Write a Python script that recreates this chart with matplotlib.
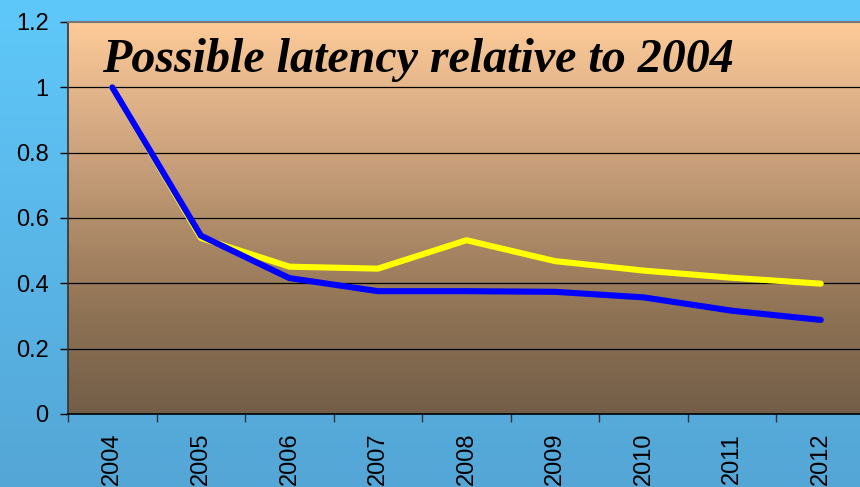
import numpy as np
import matplotlib
matplotlib.use("Agg")
import matplotlib.pyplot as plt
from matplotlib.colors import LinearSegmentedColormap

years = ["2004", "2005", "2006", "2007", "2008", "2009", "2010", "2011", "2012"]
yellow_vals = [1.0, 0.539, 0.451, 0.445, 0.532, 0.468, 0.439, 0.417, 0.399]
blue_vals = [1.0, 0.546, 0.416, 0.376, 0.376, 0.374, 0.357, 0.316, 0.288]
y_ticks = [0, 0.2, 0.4, 0.6, 0.8, 1.0, 1.2]
y_tick_labels = ["0", "0.2", "0.4", "0.6", "0.8", "1", "1.2"]
title = "Possible latency relative to 2004"

fig = plt.figure(figsize=(8.6, 4.87), dpi=100)

# sky-blue backdrop behind the whole chart
bg = fig.add_axes([0, 0, 1, 1], zorder=-10)
bg_cmap = LinearSegmentedColormap.from_list("sky", ["#5FC8FA", "#54A6D6"])
bg.imshow(np.linspace(0, 1, 256).reshape(-1, 1), cmap=bg_cmap, aspect="auto",
          extent=[0, 1, 0, 1], origin="upper")
bg.set_axis_off()

ax = fig.add_axes([68 / 860, 1 - 414 / 487, 797 / 860, (414 - 22) / 487])
x = np.arange(len(years))

# peach-to-brown plot area gradient (peach at the top)
pa_cmap = LinearSegmentedColormap.from_list("tan", ["#FECB98", "#D8AC85", "#B38E6B", "#8E7254", "#735E48"])
ax.imshow(np.linspace(0, 1, 256).reshape(-1, 1), cmap=pa_cmap, aspect="auto",
          extent=[-0.5, len(years) - 0.5, 0, 1.2], origin="upper", zorder=0)
ax.set_xlim(-0.5, len(years) - 0.5)
ax.set_ylim(0, 1.2)

for yv in y_ticks[1:-1]:
    ax.axhline(yv, color="black", lw=0.9, zorder=1)

ax.plot(x, yellow_vals, color="#FFFF00", lw=4.4, solid_capstyle="round",
        solid_joinstyle="round", zorder=3)
ax.plot(x, blue_vals, color="#0000FF", lw=4.4, solid_capstyle="round",
        solid_joinstyle="round", zorder=4)

ax.set_yticks(y_ticks)
ax.set_yticklabels(y_tick_labels, family="Liberation Sans", fontsize=17)
ax.tick_params(axis="y", length=6, width=1, pad=8, color="black")

ax.set_xticks(x)
ax.set_xticklabels(years, rotation=90, family="Liberation Sans", fontsize=17,
                   va="top", ha="center")
ax.set_xticks(np.arange(len(years) + 1) - 0.5, minor=True)
ax.tick_params(axis="x", which="major", length=0, pad=13.5)
ax.tick_params(axis="x", which="minor", length=6, width=1, color="#333333")

ax.spines["right"].set_visible(False)
ax.spines["top"].set_color("#777777")
ax.spines["top"].set_linewidth(1.5)
ax.spines["left"].set_color("#333333")
ax.spines["left"].set_linewidth(1.2)
ax.spines["bottom"].set_color("black")
ax.spines["bottom"].set_linewidth(1.2)

ax.text((102 - 68) / 797, 1 - (72 - 22) / 392, title, transform=ax.transAxes,
        family="Liberation Serif", fontweight="bold", fontstyle="italic",
        fontsize=34.6, ha="left", va="baseline", zorder=5)

fig.savefig("out.png", dpi=100)
